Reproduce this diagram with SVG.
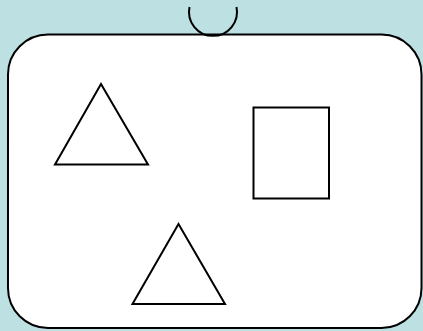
<svg xmlns="http://www.w3.org/2000/svg" width="423" height="331" viewBox="0 0 423 331">
<style>
.s{fill:none;stroke:#000;stroke-width:2}
.f{fill:#fff;stroke:#000;stroke-width:2}
</style>
<rect width="423" height="331" fill="#bde0e3"/>
<g id="board"><rect class="f" x="8" y="34.5" width="413.5" height="293.5" rx="40" ry="40"/></g>
<g id="handle"><path class="s" d="M189.5,7 A24,24 0 1 0 236.5,7"/></g>
<g id="triangle1"><polygon class="f" points="101,84 55,164.5 148,164.5"/></g>
<g id="rectangle"><rect class="f" x="253.5" y="107.5" width="75.5" height="91"/></g>
<g id="triangle2"><polygon class="f" points="178.5,224 132.5,304 225,304"/></g>
<g id="connectors"></g>
</svg>
